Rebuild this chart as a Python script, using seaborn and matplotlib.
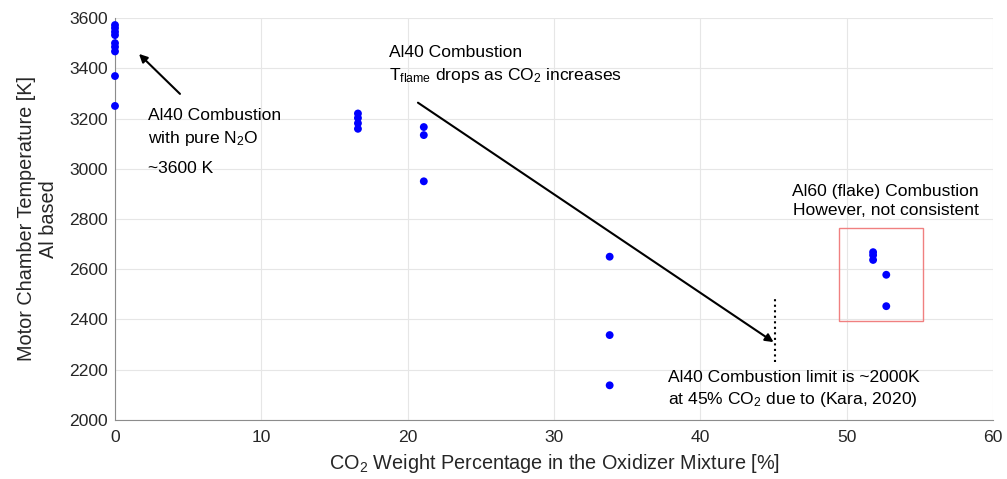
import numpy as np
import pandas as pd
import matplotlib
matplotlib.use("Agg")
import matplotlib.pyplot as plt
import seaborn as sns
from matplotlib.patches import Rectangle

# CO2 weight percentage in oxidizer mixture [%] and measured chamber temperature [K]
co2_pct = [0, 0, 0, 0, 0, 0, 0, 0, 0,
           16.6, 16.6, 16.6, 16.6,
           21.1, 21.1, 21.1,
           33.8, 33.8, 33.8,
           51.8, 51.8, 51.8,
           52.7, 52.7]
temp_k = [3572, 3560, 3545, 3532, 3500, 3485, 3467, 3369, 3250,
          3220, 3202, 3181, 3159,
          3166, 3134, 2950,
          2650, 2338, 2138,
          2668, 2656, 2637,
          2578, 2453]

x_ticks = [0, 10, 20, 30, 40, 50, 60]
y_ticks = [2000, 2200, 2400, 2600, 2800, 3000, 3200, 3400, 3600]

df = pd.DataFrame({"co2": co2_pct, "temp": temp_k})

sns.set_style("whitegrid")
plt.rcParams["font.family"] = ["Liberation Sans", "DejaVu Sans"]
plt.rcParams["mathtext.fontset"] = "custom"
plt.rcParams["mathtext.rm"] = "Liberation Sans"
plt.rcParams["mathtext.it"] = "Liberation Sans"

FS = 12.6

fig = plt.figure(figsize=(10.07, 4.79), dpi=100)
ax = fig.add_axes([0.1142, 0.1232, 0.872, 0.8392])

sns.scatterplot(data=df, x="co2", y="temp", ax=ax, color="#0000ff",
                s=32, edgecolor="none", zorder=3, clip_on=False)

ax.set_xlim(0, 60)
ax.set_ylim(2000, 3600)
ax.set_xticks(x_ticks)
ax.set_yticks(y_ticks)
ax.grid(True, color="#e6e6e6", linewidth=0.8)
for side in ("top", "right"):
    ax.spines[side].set_visible(False)
for side in ("left", "bottom"):
    ax.spines[side].set_color("#8c8c8c")
    ax.spines[side].set_linewidth(0.8)
ax.tick_params(direction="in", length=5, color="#8c8c8c", labelsize=FS,
               labelcolor="#262626", width=0.8)
ax.tick_params(axis="x", pad=7)
ax.tick_params(axis="y", pad=5)
ax.set_xlabel("CO$_2$ Weight Percentage in the Oxidizer Mixture [%]",
              fontsize=14.3, color="#262626", labelpad=5)
ax.set_ylabel("Motor Chamber Temperature [K]\nAl based", fontsize=14.3,
              color="#262626", labelpad=8, linespacing=1.2,
              multialignment="center")

arrow = dict(arrowstyle="-|>", color="black", lw=1.5, mutation_scale=12,
             shrinkA=0, shrinkB=0)
# pure N2O arrow
ax.annotate("", xy=(1.64, 3457), xytext=(4.44, 3298), arrowprops=arrow)
ax.text(2.25, 3162, "Al40 Combustion\nwith pure N$_2$O", fontsize=FS,
        va="center", ha="left", linespacing=1.45, color="black")
ax.text(2.25, 3000, "~3600 K", fontsize=FS, va="center", ha="left", color="black")

# trend arrow
ax.annotate("", xy=(45.0, 2310), xytext=(20.7, 3263), arrowprops=arrow)
ax.text(18.7, 3412, "Al40 Combustion\nT$_{\\mathrm{flame}}$ drops as CO$_2$ increases",
        fontsize=FS, va="center", ha="left", linespacing=1.45, color="black")

# combustion limit marker
ax.plot([45.1, 45.1], [2230, 2490], color="black", ls=":", lw=1.5)
ax.text(37.8, 2120, "Al40 Combustion limit is ~2000K\nat 45% CO$_2$ due to (Kara, 2020)",
        fontsize=FS, va="center", ha="left", linespacing=1.35, color="black")

# Al60 group
ax.add_patch(Rectangle((49.5, 2395), 5.7, 370, fill=False,
                       edgecolor="#f08080", lw=1.0, zorder=2))
ax.text(59.0, 2871, "Al60 (flake) Combustion\nHowever, not consistent",
        fontsize=FS, va="center", ha="right", linespacing=1.35, color="black")

fig.savefig("out.png", dpi=100)
